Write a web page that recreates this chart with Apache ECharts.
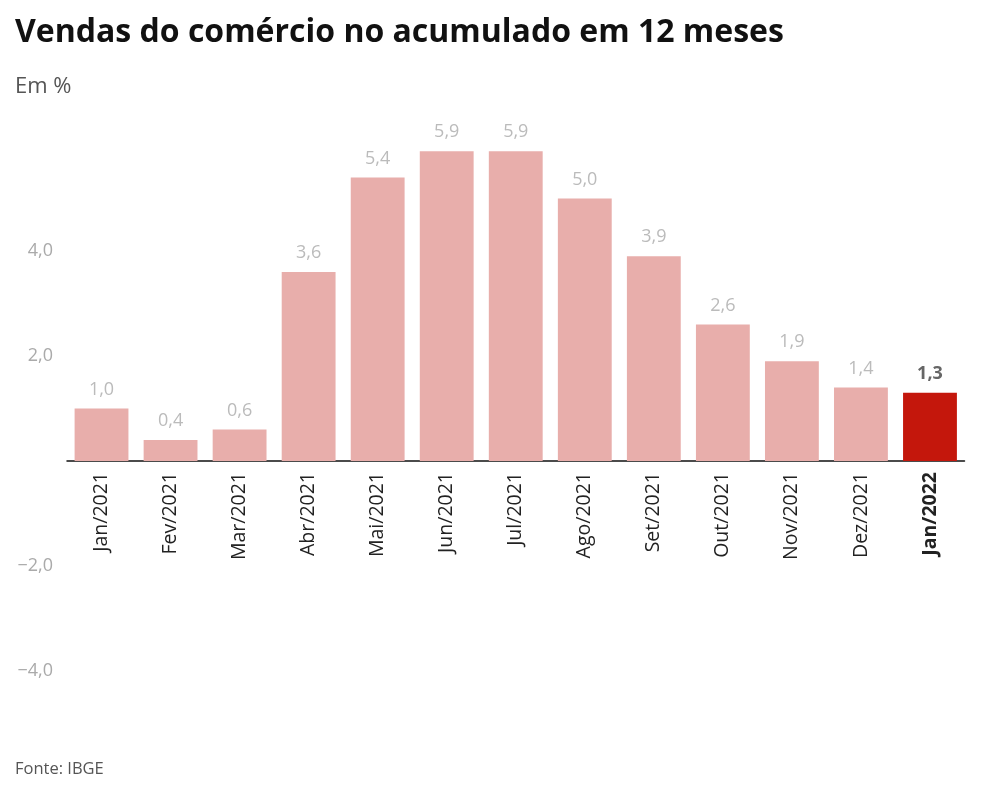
<!DOCTYPE html>
<html><head><meta charset="utf-8">
<script src="https://cdn.jsdelivr.net/npm/echarts@6/dist/echarts.min.js"></script>
<style>html,body{margin:0;padding:0;background:#fff}#c{width:984px;height:795px}</style>
</head><body><div id="c"></div>
<script>
const categories = ['Jan/2021','Fev/2021','Mar/2021','Abr/2021','Mai/2021','Jun/2021','Jul/2021','Ago/2021','Set/2021','Out/2021','Nov/2021','Dez/2021','Jan/2022'];
const values = [1.0,0.4,0.6,3.6,5.4,5.9,5.9,5.0,3.9,2.6,1.9,1.4,1.3];
const yTickLabels = {'-4':'−4,0','-2':'−2,0','2':'2,0','4':'4,0'};
const yMin = -4, yMax = 6;
const highlightIndex = 12;
const fmt = v => v.toFixed(1).replace('.', ',');
const gridTop = 146, gridBottom = 124, H = 795;
const plotH = H - gridTop - gridBottom;
const zeroOffset = -plotH * (0 - yMin) / (yMax - yMin);
const chart = echarts.init(document.getElementById('c'));
chart.setOption({
  animation:false,
  textStyle:{fontFamily:'Open Sans'},
  title:[
    {text:'Vendas do comércio no acumulado em 12 meses',left:10,top:12,textStyle:{fontFamily:'Open Sans',fontWeight:'bold',fontSize:32,color:'#111'}},
    {text:'Em %',left:10,top:71,textStyle:{fontFamily:'Open Sans',fontWeight:'normal',fontSize:22,color:'#555'}},
    {text:'Fonte: IBGE',left:10,top:756,textStyle:{fontFamily:'Open Sans',fontWeight:'normal',fontSize:16.5,color:'#555'}}
  ],
  grid:{left:67,right:19.5,top:gridTop,bottom:gridBottom,containLabel:false},
  xAxis:{type:'category',data:categories,offset:zeroOffset,
    axisLine:{onZero:false,lineStyle:{color:'#111',width:1.5}},axisTick:{show:false},
    axisLabel:{rotate:90,margin:11,fontSize:19.5,color:'#222',fontFamily:'Open Sans',
      formatter:(v,i)=> i===highlightIndex ? '{b|'+v+'}' : v,
      rich:{b:{fontWeight:'bold',fontSize:19.5,color:'#222',fontFamily:'Open Sans'}}}},
  yAxis:{type:'value',min:yMin,max:yMax,interval:2,splitLine:{show:false},axisLine:{show:false},axisTick:{show:false},
    axisLabel:{margin:14,fontSize:18,color:'#aaa',fontFamily:'Open Sans',formatter:v=>yTickLabels[String(v)]||''}},
  series:[{type:'bar',barWidth:'78%',
    data:values.map((v,i)=>({value:v,itemStyle:{color:i===highlightIndex?'#c4170c':'#e8aeab'},
      label:i===highlightIndex?{fontWeight:'bold',color:'#666'}:{}})),
    label:{show:true,position:'top',distance:10,fontSize:18,color:'#bbb',fontFamily:'Open Sans',formatter:p=>fmt(p.value)}
  }]
});
</script></body></html>
